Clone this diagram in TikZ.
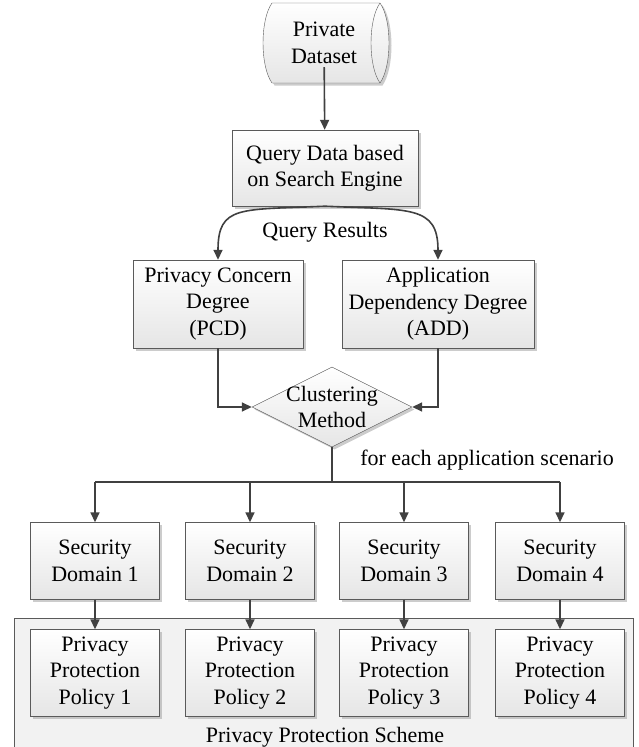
\documentclass[tikz,border=0pt]{standalone}
\usepackage{fontspec}
\setmainfont{Liberation Serif}
\newfontfamily\diagfont{Liberation Serif}
\usetikzlibrary{shapes.geometric,arrows.meta,shadows}
\definecolor{linegray}{HTML}{404040}
\definecolor{framegray}{HTML}{5A5A5A}
\definecolor{schemegray}{HTML}{F2F2F2}

\begin{document}
\begin{tikzpicture}[x=1pt,y=-1pt,
	font=\diagfont\fontsize{22}{26.4}\selectfont,
	box/.style={draw=framegray, rectangle, top color=white, bottom color=black!10, drop shadow={shadow xshift=2.5pt, shadow yshift=-2.5pt, fill=black!40}, align=center, inner sep=0pt},
	arr/.style={draw=linegray, line width=1.6pt, -{Triangle[length=10pt,width=9pt]}},
	ln/.style={draw=linegray, line width=1.6pt}]
			\useasboundingbox (0,0) rectangle (639,747);

			% private data store
			\path [draw=framegray, top color=white, bottom color=black!10, drop shadow={shadow xshift=2.5pt, shadow yshift=-2.5pt, fill=black!40}]
				(272,3) .. controls (260,20) and (260,66) .. (272,83) -- (380,83)
				.. controls (392,66) and (392,20) .. (380,3) -- cycle;
			\draw [framegray] (380,3) .. controls (368,20) and (368,66) .. (380,83);
			\node [align=center] (data) at (324,43) {Private\\Dataset};

			\node [box, minimum width=186pt, minimum height=76pt] (query) at (325,168) {Query Data based\\on Search Engine};
			\node (results) at (325,232) {Query Results};

			\node [box, minimum width=170pt, minimum height=88pt] (pcd) at (218,304) {Privacy Concern\\Degree\\(PCD)};
			\node [box, minimum width=192pt, minimum height=88pt] (add) at (438,304) {Application\\Dependency Degree\\(ADD)};

			\node [draw=framegray, diamond, top color=white, bottom color=black!10, drop shadow={shadow xshift=2.5pt, shadow yshift=-2.5pt, fill=black!40}, minimum width=160pt, minimum height=80pt, inner sep=0pt,
				label={[align=center]center:Clustering\\Method}] (cluster) at (332,407) {};
			\node (scenario) at (487,460) {for each application scenario};
			\coordinate (split) at (332,482);

			% privacy protection scheme frame
			\node [draw=framegray, fill=schemegray, rectangle, anchor=north west, minimum width=619pt, minimum height=150pt] (scheme) at (14,618) {};
			\node (schemelabel) at (325,737) {Privacy Protection Scheme};

			\node [box, minimum width=129pt, minimum height=77pt] (sec1) at (95,561) {Security\\Domain 1};
			\node [box, minimum width=129pt, minimum height=77pt] (sec2) at (250,561) {Security\\Domain 2};
			\node [box, minimum width=129pt, minimum height=77pt] (sec3) at (404,561) {Security\\Domain 3};
			\node [box, minimum width=129pt, minimum height=77pt] (sec4) at (560,561) {Security\\Domain 4};

			\node [box, minimum width=129pt, minimum height=87pt] (pol1) at (95,673) {Privacy\\Protection\\Policy 1};
			\node [box, minimum width=129pt, minimum height=87pt] (pol2) at (250,673) {Privacy\\Protection\\Policy 2};
			\node [box, minimum width=129pt, minimum height=87pt] (pol3) at (404,673) {Privacy\\Protection\\Policy 3};
			\node [box, minimum width=129pt, minimum height=87pt] (pol4) at (560,673) {Privacy\\Protection\\Policy 4};

			\draw [arr] (data) -- (query);
			\draw [arr] (query.south) .. controls (240,210) and (218,205) .. (pcd.north);
			\draw [arr] (query.south) .. controls (410,210) and (438,205) .. (add.north);
			\draw [arr] (pcd.south) |- (cluster.west);
			\draw [arr] (add.south) |- (cluster.east);

			\draw [ln] (cluster.south) -- (split);
			\draw [ln] (sec1.north |- split) -- (sec4.north |- split);
			\draw [arr] (sec1.north |- split) -- (sec1.north);
			\draw [arr] (sec2.north |- split) -- (sec2.north);
			\draw [arr] (sec3.north |- split) -- (sec3.north);
			\draw [arr] (sec4.north |- split) -- (sec4.north);

			\draw [arr] (sec1) -- (pol1);
			\draw [arr] (sec2) -- (pol2);
			\draw [arr] (sec3) -- (pol3);
			\draw [arr] (sec4) -- (pol4);
		\end{tikzpicture}
\end{document}
